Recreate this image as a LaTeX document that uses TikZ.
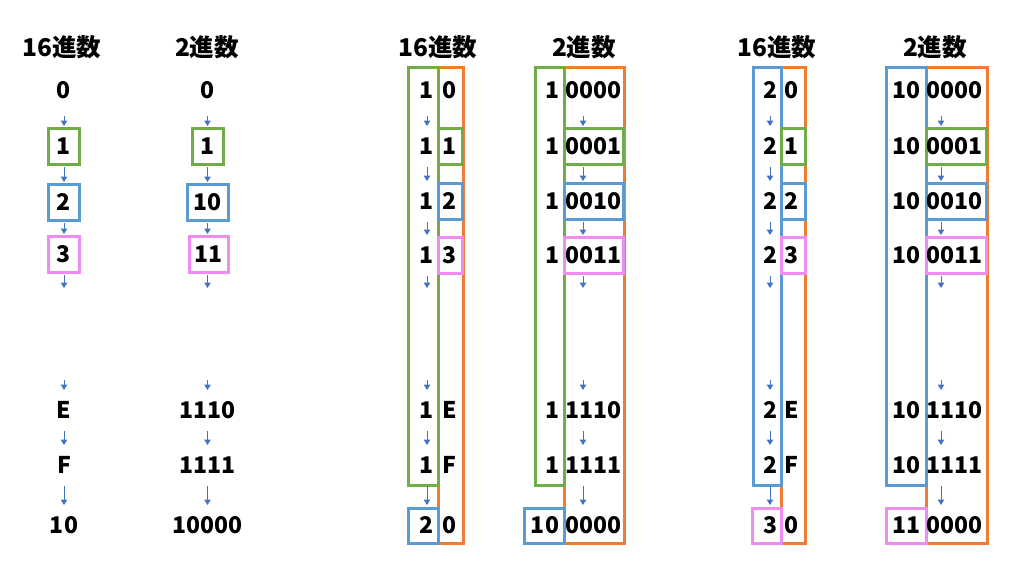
\documentclass[tikz,border=0pt]{standalone}
\usepackage{fontspec}
\setmainfont{Noto Sans CJK JP}
\usetikzlibrary{arrows.meta}
\definecolor{cgreen}{HTML}{70AD47}
\definecolor{cblue}{HTML}{5B9BD5}
\definecolor{corange}{HTML}{ED7D31}
\definecolor{cpink}{HTML}{F08CF0}
\definecolor{carrow}{HTML}{4472C4}
\newcommand\colarrows[3]{%
  \coordinate (#1ax) at (#2,0);
  \coordinate (#1u) at (#2,290);
  \coordinate (#1v) at (#2,377);
  \draw[arr,shorten <=8pt] (#1#30.south -| #1ax) -- (#1#31.north -| #1ax);
  \draw[arr] (#1#31.south -| #1ax) -- (#1#32.north -| #1ax);
  \draw[arr] (#1#32.south -| #1ax) -- (#1#33.north -| #1ax);
  \draw[arr] (#1#33.south -| #1ax) -- (#1u);
  \draw[arr] (#1v) -- (#1#3E.north -| #1ax);
  \draw[arr] (#1#3E.south -| #1ax) -- (#1#3F.north -| #1ax);
  \draw[arr] (#1#3F.south -| #1ax) -- (#1#3G.north -| #1ax);
}
\begin{document}
\begin{tikzpicture}[x=1pt,y=-1pt,
  every node/.style={font=\fontsize{23}{27}\selectfont\bfseries},
  txt/.style={inner sep=0pt,outer sep=0pt,minimum height=36pt,text=black},
  hd/.style={inner sep=0pt,text=black,font=\fontsize{24.5}{28}\selectfont\bfseries},
  sbox/.style={draw=#1,line width=3pt,inner sep=0pt,outer sep=0pt,minimum height=36pt},
  tallframe/.style={draw=#1,line width=3pt},
  arr/.style={draw=carrow,line width=1pt,-{Triangle[width=6.5pt,length=5.5pt]},shorten <=3pt,shorten >=2pt}]
\useasboundingbox (0,0) rectangle (1024,571);

% headings
\node[hd] (h1) at (62,47) {16進数};
\node[hd] (h2) at (207,47) {2進数};
\node[hd] (h3) at (438,47) {16進数};
\node[hd] (h4) at (584,47) {2進数};
\node[hd] (h5) at (777,47) {16進数};
\node[hd] (h6) at (935,47) {2進数};

% column 1
\node[txt] (a0) at (64,90) {0};
\node[txt,sbox=cgreen,minimum width=31pt] (a1) at (64,146) {1};
\node[txt,sbox=cblue,minimum width=31pt] (a2) at (64,202) {2};
\node[txt,sbox=cpink,minimum width=31pt] (a3) at (64,254) {3};
\node[txt] (aE) at (64,410) {E};
\node[txt] (aF) at (64,465) {F};
\node[txt] (aG) at (64,525) {10};

% column 2
\node[txt] (b0) at (207.5,90) {0};
\node[txt,sbox=cgreen,minimum width=31pt] (b1) at (207.5,146) {1};
\node[txt,sbox=cblue,minimum width=41pt] (b2) at (207.5,202) {10};
\node[txt,sbox=cpink,minimum width=39pt] (b3) at (208.5,254) {11};
\node[txt] (bE) at (207.5,410) {1110};
\node[txt] (bF) at (207.5,465) {1111};
\node[txt] (bG) at (207.5,525) {10000};

% tall frames
\draw[tallframe=corange] (438,67) rectangle (463,543);
\draw[tallframe=cgreen] (408,67) rectangle (438,485);
\draw[tallframe=corange] (564,67) rectangle (624,543);
\draw[tallframe=cgreen] (535,67) rectangle (564,485);
\draw[tallframe=corange] (781,67) rectangle (805,543);
\draw[tallframe=cblue] (753,67) rectangle (781,485);
\draw[tallframe=corange] (926,67) rectangle (987,543);
\draw[tallframe=cblue] (886,67) rectangle (926,485);

% inner boxes
\foreach \p/\cx/\w in {c3/450.5/24,c4/594/59,c5/793/24,c6/956.5/60}{
  \node[sbox=cgreen,minimum width=\w pt] (\p g) at (\cx,146) {};
  \node[sbox=cblue,minimum width=\w pt] (\p b) at (\cx,201) {};
  \node[sbox=cpink,minimum width=\w pt] (\p p) at (\cx,255) {};
}
% bottom boxes
\node[sbox=cblue,minimum width=30pt,minimum height=35pt] (c3bot) at (423,525.5) {};
\node[sbox=cblue,minimum width=40pt,minimum height=35pt] (c4bot) at (544,525.5) {};
\node[sbox=cpink,minimum width=29pt,minimum height=35pt] (c5bot) at (766.5,525.5) {};
\node[sbox=cpink,minimum width=40pt,minimum height=35pt] (c6bot) at (906,525.5) {};

% column texts
\foreach \n/\y/\r in {0/90/0,1/146/1,2/201/2,3/255/3,E/410/E,F/465/F}{
  \node[txt,anchor=east] (c3L\n) at (434,\y) {1};
  \node[txt,anchor=west] (c3R\n) at (442,\y) {\r};
  \node[txt,anchor=east] (c5L\n) at (777,\y) {2};
  \node[txt,anchor=west] (c5R\n) at (784,\y) {\r};
}
\foreach \n/\y/\r in {0/90/0000,1/146/0001,2/201/0010,3/255/0011,E/410/1110,F/465/1111}{
  \node[txt,anchor=east] (c4L\n) at (559,\y) {1};
  \node[txt,anchor=west] (c4R\n) at (565,\y) {\r};
  \node[txt,anchor=east] (c6L\n) at (920,\y) {10};
  \node[txt,anchor=west] (c6R\n) at (926,\y) {\r};
}
\node[txt,anchor=east] (c3LG) at (434,525) {2};
\node[txt,anchor=west] (c3RG) at (442,525) {0};
\node[txt,anchor=east] (c4LG) at (559,525) {10};
\node[txt,anchor=west] (c4RG) at (565,525) {0000};
\node[txt,anchor=east] (c5LG) at (777,525) {3};
\node[txt,anchor=west] (c5RG) at (784,525) {0};
\node[txt,anchor=east] (c6LG) at (920,525) {11};
\node[txt,anchor=west] (c6RG) at (926,525) {0000};

% arrows
\colarrows{a}{64}{}
\colarrows{b}{207.5}{}
\colarrows{c3}{427}{L}
\colarrows{c4}{583}{R}
\colarrows{c5}{770}{L}
\colarrows{c6}{941}{R}
\end{tikzpicture}
\end{document}
